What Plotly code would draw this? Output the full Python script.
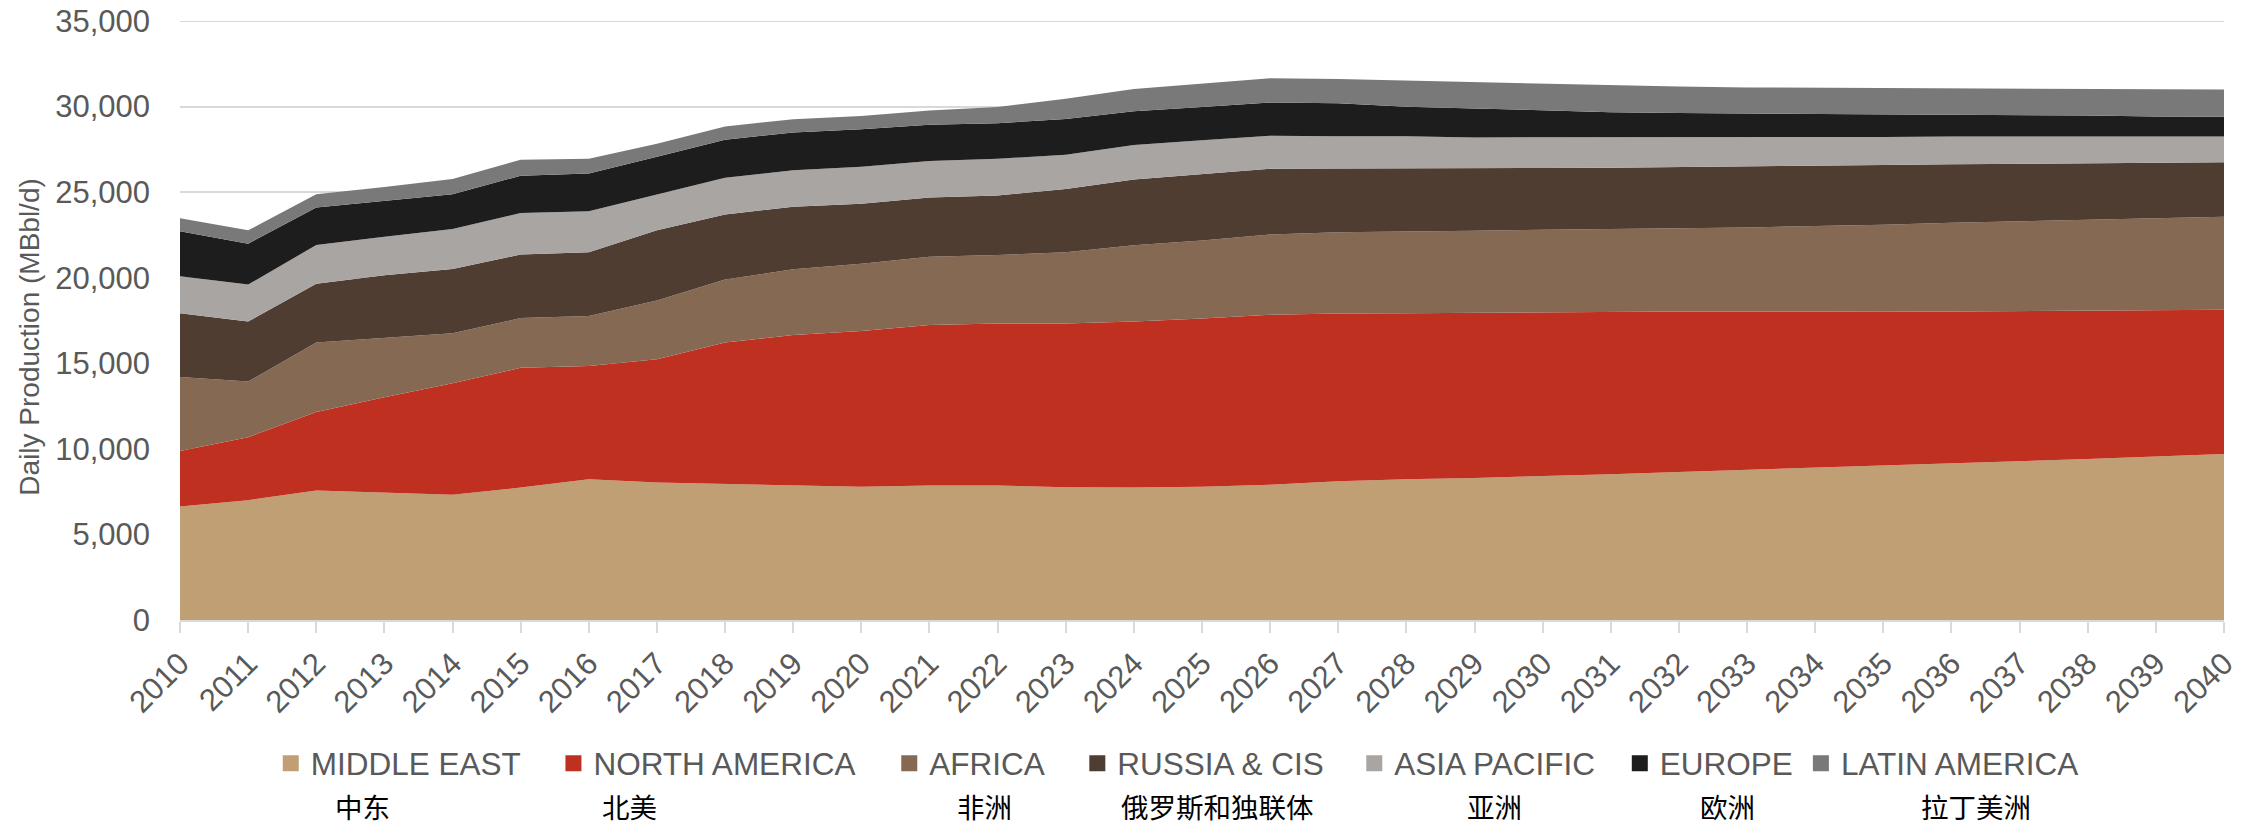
import plotly.graph_objects as go

# Forecast horizon
years = [2010, 2011, 2012, 2013, 2014, 2015, 2016, 2017, 2018, 2019, 2020,
         2021, 2022, 2023, 2024, 2025, 2026, 2027, 2028, 2029, 2030,
         2031, 2032, 2033, 2034, 2035, 2036, 2037, 2038, 2039, 2040]

# Daily production by region (MBbl/d)
middle_east = [6630, 7000, 7565, 7440, 7320, 7740, 8230, 8030, 7950, 7910, 7790,
               7860, 7860, 7760, 7740, 7790, 7910, 8110, 8230, 8300, 8400,
               8520, 8650, 8770, 8890, 9010, 9160, 9290, 9410, 9560, 9700]
north_america = [3245, 3685, 4595, 5580, 6510, 7000, 6610, 7200, 8260, 8740, 9090,
                 9380, 9460, 9560, 9700, 9820, 9920, 9800, 9700, 9660, 9580,
                 9490, 9380, 9260, 9120, 9000, 8870, 8760, 8670, 8540, 8430]
africa = [4325, 3245, 4050, 3460, 2920, 2900, 2920, 3440, 3690, 3840, 3930,
          3980, 4000, 4170, 4450, 4570, 4700, 4740, 4790, 4790, 4820,
          4830, 4860, 4910, 5010, 5080, 5180, 5260, 5330, 5380, 5430]
russia_cis = [3730, 3510, 3440, 3660, 3760, 3710, 3730, 4100, 3800, 3660, 3510,
              3470, 3490, 3690, 3850, 3860, 3830, 3730, 3660, 3630, 3610,
              3590, 3570, 3540, 3510, 3490, 3420, 3340, 3290, 3250, 3190]
asia_pacific = [2160, 2160, 2260, 2260, 2335, 2430, 2390, 2090, 2140, 2130, 2160,
                2130, 2140, 2010, 2020, 1990, 1940, 1890, 1890, 1820, 1790,
                1770, 1740, 1720, 1670, 1640, 1620, 1600, 1550, 1520, 1500]
europe = [2630, 2385, 2190, 2090, 2035, 2180, 2210, 2210, 2220, 2210, 2190,
          2120, 2080, 2090, 1960, 1940, 1940, 1920, 1720, 1690, 1570,
          1470, 1420, 1400, 1370, 1330, 1270, 1250, 1230, 1170, 1150]
latin_america = [760, 785, 780, 810, 890, 940, 860, 760, 780, 770, 780,
                 830, 940, 1180, 1300, 1350, 1420, 1420, 1530, 1550, 1550,
                 1550, 1550, 1520, 1530, 1520, 1530, 1520, 1540, 1580, 1600]

region_names = ["MIDDLE EAST", "NORTH AMERICA", "AFRICA", "RUSSIA & CIS",
                "ASIA PACIFIC", "EUROPE", "LATIN AMERICA"]
region_names_cn = ["中东", "北美", "非洲", "俄罗斯和独联体", "亚洲", "欧洲", "拉丁美洲"]

series = [middle_east, north_america, africa, russia_cis,
          asia_pacific, europe, latin_america]
colors = ["#C09F74", "#C03021", "#866953", "#4F3D32", "#A8A5A3", "#1D1D1D", "#797979"]

# Legend placement (paper x of each entry) and Chinese caption centres
legend_x = [0.0444, 0.1827, 0.3470, 0.4390, 0.5745, 0.7044, 0.7930]
caption_x = [0.0892, 0.2198, 0.3934, 0.5078, 0.6433, 0.7571, 0.8785]

TEXT_GREY = "#595959"
GRID = "#D9D9D9"
FONT = "Liberation Sans, Arial, sans-serif"
Y_MAX = 35000

fig = go.Figure()

for name, vals, col in zip(region_names, series, colors):
    fig.add_trace(go.Scatter(
        x=years, y=vals, name=name, mode="lines",
        stackgroup="prod", line=dict(width=0, color=col),
        fillcolor=col, showlegend=False, hoverinfo="x+y+name",
    ))

# Square swatches for the legend, one legend box per region
for i, (name, col) in enumerate(zip(region_names, colors)):
    key = "legend" if i == 0 else f"legend{i + 1}"
    fig.add_trace(go.Scatter(
        x=[None], y=[None], name=name, mode="markers",
        marker=dict(symbol="square", size=16, color=col),
        showlegend=True, legend=key,
    ))

legend_common = dict(
    orientation="h", y=-0.239, yanchor="middle", xanchor="left",
    font=dict(family=FONT, size=31.5, color=TEXT_GREY),
    bgcolor="rgba(0,0,0,0)", borderwidth=0, itemwidth=30,
    tracegroupgap=0,
)
legend_layout = {}
for i, lx in enumerate(legend_x):
    key = "legend" if i == 0 else f"legend{i + 1}"
    legend_layout[key] = dict(legend_common, x=lx)

# Chinese captions under each legend entry
for label, cx in zip(region_names_cn, caption_x):
    fig.add_annotation(
        x=cx, y=-0.3105, xref="paper", yref="paper",
        text=label, showarrow=False, xanchor="center", yanchor="middle",
        font=dict(family="Noto Sans CJK SC", size=27.5, color="#000000"),
    )

# Vertical axis title
fig.add_annotation(
    x=-0.0738, y=0.4716, xref="paper", yref="paper",
    text="Daily Production (MBbl/d)", textangle=-90, showarrow=False,
    xanchor="center", yanchor="middle",
    font=dict(family=FONT, size=28, color=TEXT_GREY),
)

# Top gridline at the axis maximum
fig.add_shape(
    type="line", xref="paper", x0=0, x1=1, yref="y", y0=Y_MAX, y1=Y_MAX,
    line=dict(color=GRID, width=2), layer="below",
)

fig.update_layout(
    width=2252, height=827,
    margin=dict(l=180, r=28, t=21, b=207),
    paper_bgcolor="white", plot_bgcolor="white",
    font=dict(family=FONT, size=31, color=TEXT_GREY),
    **legend_layout,
)

fig.update_xaxes(
    range=[2010, 2040], tickmode="array", tickvals=years,
    ticktext=[str(y) for y in years], tickangle=-45,
    tickfont=dict(family=FONT, size=31, color=TEXT_GREY),
    showgrid=False, zeroline=False, automargin=False,
    showline=True, linecolor=GRID, linewidth=2,
    ticks="outside", ticklen=11, tickwidth=2, tickcolor=GRID,
)

fig.update_yaxes(
    range=[0, Y_MAX], dtick=5000, tickformat=",",
    tickfont=dict(family=FONT, size=31, color=TEXT_GREY),
    showgrid=True, gridcolor=GRID, gridwidth=2,
    zeroline=False, showline=False, ticks="", automargin=False,
    ticklabelstandoff=29,
)

fig.write_html("out.html")
